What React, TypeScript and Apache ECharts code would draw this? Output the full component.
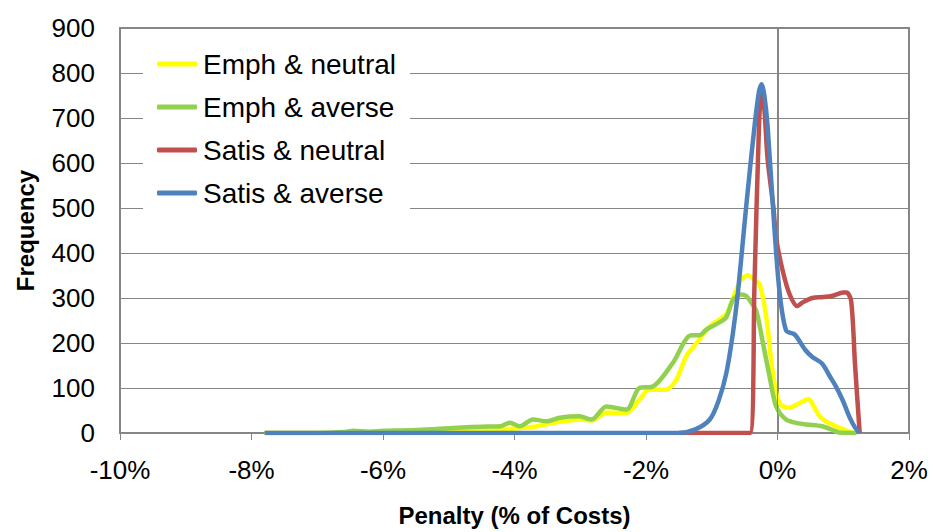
import React, { useEffect, useRef } from "react";
import * as echarts from "echarts";

const seriesNames = ["Emph & neutral", "Emph & averse", "Satis & neutral", "Satis & averse"];
const seriesColors = ["#FFFF00", "#92D050", "#C0504D", "#4F81BD"];

const xTicks = { min: -10, max: 2, interval: 2 };
const yTicks = { min: 0, max: 900, interval: 100 };

const emphNeutral: [number, number][] = [
  [-7.8, 0], [-7, 0], [-6, 0], [-5.5, 1], [-5, 3], [-4.5, 5], [-4.2, 8], [-4, 10], [-3.7, 14],
  [-3.5, 20], [-3.3, 25], [-3, 30], [-2.83, 28], [-2.6, 45], [-2.3, 45], [-2.1, 74], [-1.95, 96],
  [-1.7, 96], [-1.54, 118], [-1.39, 170], [-1.23, 200], [-1.1, 225], [-0.99, 242], [-0.78, 264],
  [-0.65, 310], [-0.55, 340], [-0.45, 350], [-0.35, 340], [-0.27, 330], [-0.17, 257], [-0.07, 132],
  [0.03, 66], [0.18, 56], [0.33, 66], [0.47, 75], [0.55, 60], [0.64, 37], [0.75, 25], [0.89, 15],
  [1.0, 8], [1.15, 0],
];

const emphAverse: [number, number][] = [
  [-7.8, 0], [-7, 0], [-6.6, 2], [-6.45, 5], [-6.2, 3], [-6, 5], [-5.6, 6], [-5.2, 9], [-4.8, 12],
  [-4.5, 14], [-4.22, 15], [-4.07, 23], [-3.92, 15], [-3.72, 30], [-3.51, 26], [-3.31, 34],
  [-3.01, 37], [-2.83, 30], [-2.6, 59], [-2.3, 52], [-2.1, 100], [-1.9, 103], [-1.6, 154],
  [-1.31, 217], [-1.19, 217], [-1.08, 230], [-0.93, 242], [-0.78, 257], [-0.68, 295], [-0.55, 308],
  [-0.48, 305], [-0.4, 290], [-0.32, 270], [-0.23, 206], [-0.12, 125], [-0.02, 59], [0.13, 30],
  [0.3, 22], [0.44, 19], [0.68, 15], [0.85, 6], [0.94, 1], [1.2, 0],
];

const satisNeutral: [number, number][] = [
  [-1.5, 0], [-1, 0], [-0.6, 0], [-0.42, 0], [-0.35, 330], [-0.28, 690], [-0.24, 760],
  [-0.2, 720], [-0.15, 608], [-0.06, 498], [-0.02, 432], [0.08, 360], [0.18, 310], [0.3, 282],
  [0.38, 290], [0.53, 300], [0.7, 302], [0.84, 305], [1.0, 312], [1.05, 312], [1.12, 294],
  [1.18, 150], [1.25, 0],
];

const satisAverse: [number, number][] = [
  [-7.8, 0], [-7, 0], [-6, 0], [-5, 0], [-4, 0], [-3, 0], [-2, 0], [-1.5, 0], [-1.25, 8],
  [-1.03, 30], [-0.9, 70], [-0.78, 132], [-0.68, 220], [-0.6, 315], [-0.48, 498], [-0.35, 681],
  [-0.28, 760], [-0.24, 775], [-0.2, 750], [-0.15, 681], [-0.05, 461], [0.03, 315], [0.13, 228],
  [0.25, 220], [0.3, 212], [0.42, 185], [0.53, 169], [0.68, 154], [0.8, 125], [0.89, 103],
  [1.0, 70], [1.09, 37], [1.18, 12], [1.25, 0],
];

const allData = [emphNeutral, emphAverse, satisNeutral, satisAverse];

const FONT = "'Liberation Sans', Arial, sans-serif";

export default function App() {
  const ref = useRef<HTMLDivElement>(null);
  useEffect(() => {
    if (!ref.current) return;
    const chart = echarts.init(ref.current, undefined, { renderer: "svg" });
    const series: any[] = [
      {
        type: "line",
        name: "__zero",
        data: [],
        z: 1,
        silent: true,
        markLine: {
          silent: true,
          symbol: "none",
          label: { show: false },
          lineStyle: { color: "#868686", width: 1, type: "solid" },
          data: [{ xAxis: 0 }],
        },
      },
    ];
    allData.forEach((d, i) => {
      series.push({
        type: "line",
        name: seriesNames[i],
        data: d,
        smooth: 0.3,
        showSymbol: false,
        symbol: "none",
        z: 2 + i,
        lineStyle: { color: seriesColors[i], width: 4.5 },
        itemStyle: { color: seriesColors[i] },
      });
    });
    chart.setOption({
      animation: false,
      textStyle: { fontFamily: FONT },
      grid: { left: 120, right: 24, top: 28, bottom: 95, show: true, borderColor: "#868686", borderWidth: 2, backgroundColor: "transparent" },
      legend: {
        data: seriesNames,
        orient: "vertical",
        left: 143,
        top: 39,
        padding: [10, 14, 10, 14],
        backgroundColor: "#ffffff",
        itemWidth: 40,
        itemHeight: 5,
        itemGap: 13,
        icon: "roundRect",
        textStyle: { fontSize: 28, color: "#000", fontFamily: FONT, lineHeight: 30, padding: [0, 0, 0, 1] },
      },
      xAxis: {
        type: "value",
        min: xTicks.min,
        max: xTicks.max,
        interval: xTicks.interval,
        name: "Penalty (% of Costs)",
        nameLocation: "middle",
        nameGap: 70,
        nameTextStyle: { fontSize: 24, fontWeight: "bold", color: "#000", fontFamily: FONT },
        axisLine: { lineStyle: { color: "#868686", width: 2 } },
        axisTick: { show: true, length: 7, lineStyle: { color: "#868686", width: 1 } },
        axisLabel: { fontSize: 26, color: "#000", margin: 24, formatter: (v: number) => `${v}%`, fontFamily: FONT },
        splitLine: { show: false },
      },
      yAxis: {
        type: "value",
        min: yTicks.min,
        max: yTicks.max,
        interval: yTicks.interval,
        name: "Frequency",
        nameLocation: "middle",
        nameGap: 83,
        nameTextStyle: { fontSize: 24, fontWeight: "bold", color: "#000", fontFamily: FONT },
        axisLine: { show: true, lineStyle: { color: "#868686", width: 2 } },
        axisTick: { show: false },
        axisLabel: { fontSize: 26, color: "#000", margin: 25, fontFamily: FONT },
        splitLine: { show: true, lineStyle: { color: "#868686", width: 1 } },
      },
      series,
    });
    return () => chart.dispose();
  }, []);
  return <div ref={ref} style={{ width: 933, height: 532, position: "absolute", left: 0, top: 0 }} />;
}
